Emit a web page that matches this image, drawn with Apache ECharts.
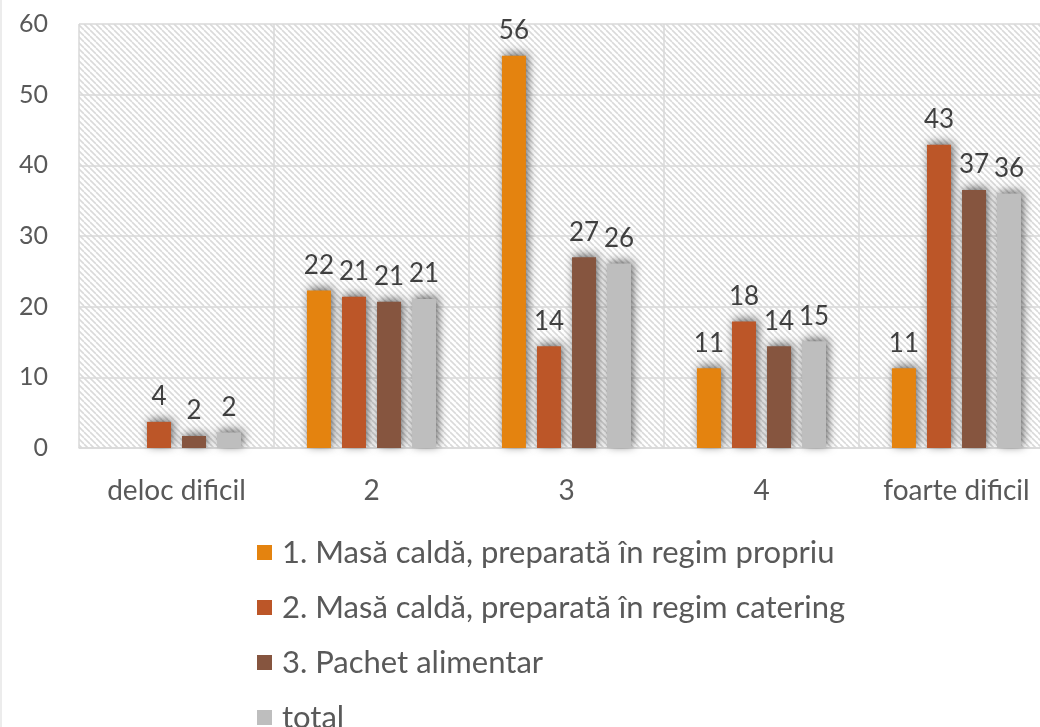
<!DOCTYPE html>
<html>
<head>
<meta charset="utf-8">
<script src="https://cdn.jsdelivr.net/npm/echarts@6/dist/echarts.min.js"></script>
<style>
html,body{margin:0;padding:0;background:#fff;overflow:hidden;width:1040px;height:727px;}
#chart{width:1054px;height:780px;}
</style>
</head>
<body>
<div id="chart"></div>
<script>
const categories = ['deloc dificil', '2', '3', '4', 'foarte dificil'];
const seriesNames = [
  '1. Masă caldă, preparată în regim propriu',
  '2. Masă caldă, preparată în regim catering',
  '3. Pachet alimentar',
  'total'
];
const propriu = [0, 22.3, 55.5, 11.3, 11.3];
const catering = [3.7, 21.4, 14.4, 17.9, 42.9];
const pachet = [1.7, 20.7, 27.0, 14.4, 36.5];
const total = [2.2, 21.1, 26.1, 15.1, 36.0];
const yTicks = [0, 10, 20, 30, 40, 50, 60];
const colors = ['#E4830F', '#BC5628', '#86553F', '#BEBEBE'];

// hatched background pattern
const pc = document.createElement('canvas');
pc.width = 6; pc.height = 6;
const g = pc.getContext('2d');
g.fillStyle = '#ffffff';
g.fillRect(0, 0, 6, 6);
g.strokeStyle = '#dadada';
g.lineWidth = 1.6;
for (let o = -6; o <= 6; o += 6) {
  g.beginPath();
  g.moveTo(o, 0);
  g.lineTo(o + 6, 6);
  g.stroke();
}

const chart = echarts.init(document.getElementById('chart'));
const font = 'Lato';
const dataSets = [propriu, catering, pachet, total];

const series = dataSets.map((d, i) => ({
  name: seriesNames[i],
  type: 'bar',
  data: d,
  barWidth: 24,
  barGap: '46%',
  itemStyle: {
    color: colors[i],
    shadowBlur: 10,
    shadowColor: 'rgba(0,0,0,0.6)',
    shadowOffsetX: 2,
    shadowOffsetY: -2
  },
  label: {
    show: true,
    position: 'top',
    distance: 12,
    color: '#404040',
    fontFamily: font,
    fontSize: 26,
    formatter: p => (p.value ? String(Math.round(p.value)) : '')
  }
}));

chart.setOption({
  animation: false,
  backgroundColor: '#ffffff',
  color: colors,
  grid: {
    left: 79,
    right: 0,
    top: 24,
    bottom: 780 - 448,
    show: true,
    borderWidth: 0,
    backgroundColor: { image: pc, repeat: 'repeat' }
  },
  legend: {
    orient: 'vertical',
    left: 257,
    top: 537,
    padding: 0,
    itemWidth: 15,
    itemHeight: 15,
    itemGap: 24,
    icon: 'rect',
    textStyle: {
      color: '#595959',
      fontFamily: font,
      fontSize: 31,
      lineHeight: 28,
      padding: [0, 0, 0, 5]
    },
    data: seriesNames
  },
  xAxis: {
    type: 'category',
    data: categories,
    axisLine: { show: true, lineStyle: { color: '#D9D9D9', width: 1.5 } },
    axisTick: { show: false },
    splitLine: { show: true, interval: 0, lineStyle: { color: '#D9D9D9', width: 1.5 } },
    axisLabel: {
      interval: 0,
      margin: 29,
      color: '#595959',
      fontFamily: font,
      fontSize: 28
    }
  },
  yAxis: {
    type: 'value',
    min: yTicks[0],
    max: yTicks[yTicks.length - 1],
    interval: 10,
    axisLine: { show: false },
    axisTick: { show: false },
    splitLine: { show: true, lineStyle: { color: '#D9D9D9', width: 1.5 } },
    axisLabel: {
      margin: 31,
      color: '#595959',
      fontFamily: font,
      fontSize: 25
    }
  },
  graphic: [{
    type: 'line',
    shape: { x1: 1, y1: 0, x2: 1, y2: 780 },
    style: { stroke: '#D9D9D9', lineWidth: 1 },
    silent: true
  }],
  series: series
});
</script>
</body>
</html>
